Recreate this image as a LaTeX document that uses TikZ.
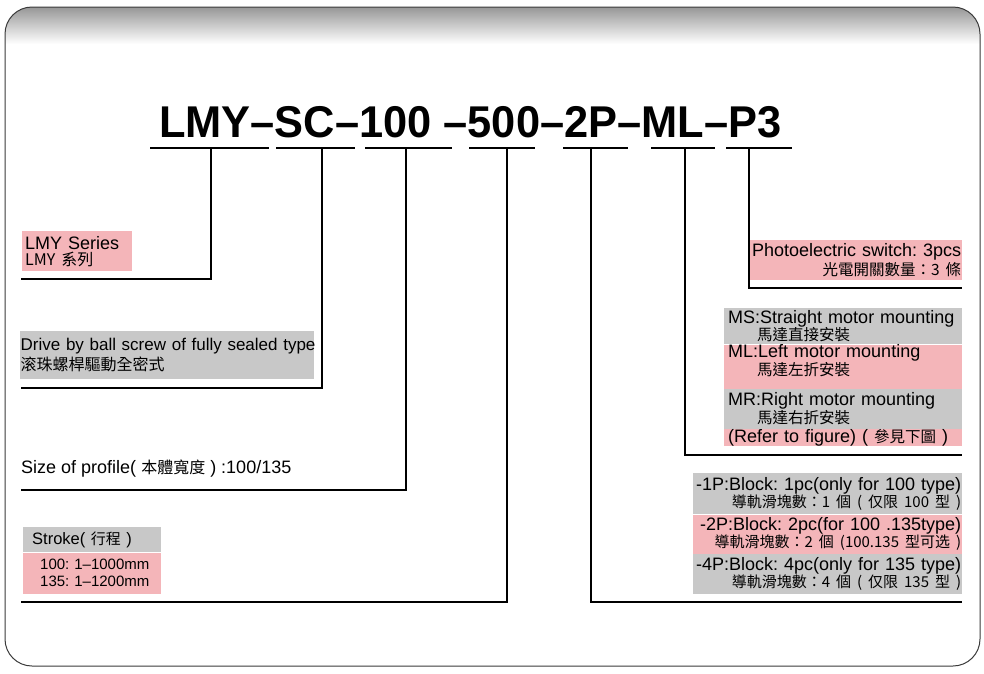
\documentclass[tikz,border=0pt]{standalone}
\usepackage{fontspec}
\setmainfont{Liberation Sans}
\newfontfamily\cjk{Noto Sans CJK TC}
\usepackage{tikz}
\usetikzlibrary{positioning}
\frenchspacing
\definecolor{LabelPink}{HTML}{F4B5B9}
\definecolor{LabelGray}{HTML}{C8C8C8}
\definecolor{FrameLine}{HTML}{3A3A3A}
\definecolor{BandGray}{HTML}{979797}
\newcommand{\cjkline}[2][15]{\mbox{\cjk\fontsize{#1}{#1}\selectfont #2}}
\tikzset{
  % Box styles
  labelbox/.style={rectangle, anchor=north west, inner ysep=0pt, font=\fontsize{18}{16}\selectfont},
  pinkbox/.style={labelbox, fill=LabelPink},
  graybox/.style={labelbox, fill=LabelGray},
  % Line styles
  underline/.style={line width=1.3pt, black},
  leader/.style={line width=1.2pt, black},
  frame/.style={draw=FrameLine, line width=1pt, rounded corners=27pt}
}

\begin{document}
\begin{tikzpicture}[x=1pt, y=-1pt]
  \useasboundingbox (0,0) rectangle (984,673);
  % Frame with shaded top band
  \begin{scope}
    \clip[rounded corners=27pt] (5,7) rectangle (980,666);
    \shade[top color=BandGray, bottom color=white] (5,7) rectangle (980,44);
  \end{scope}
  \draw[frame] (5,7) rectangle (980,666);

  % Model code
  \node[font=\bfseries\fontsize{44.5}{44.5}\selectfont, anchor=base west, inner sep=0pt] (code) at (159,137) {\scalebox{0.975}[1]{LMY–SC–100 –500–2P–ML–P3}};
  \foreach \a/\b in {150/269, 276/355, 365/452, 469/535, 563/628, 651/715, 726/792}
    \draw[underline] (\a,148) -- (\b,148);

  % Left labels
  \node[pinkbox, text width=104pt, inner xsep=3pt, minimum height=40pt, align=left] (series) at (22,231) {\mbox{LMY Series}\\\cjkline[16]{LMY 系列}};
  \node[graybox, text width=293pt, inner xsep=0.5pt, minimum height=48pt, align=left, font=\fontsize{17}{20}\selectfont] (drive) at (20,331) {\mbox{Drive by ball screw of fully sealed type}\\\cjkline[16]{滚珠螺桿驅動全密式}};
  \node[labelbox, anchor=base west, inner sep=0pt] (profile) at (21,473) {Size of profile( \cjkline[16]{本體寬度} ) :100/135};
  \node[graybox, text width=120pt, inner xsep=9pt, minimum height=25pt, align=left, font=\fontsize{16.5}{16}\selectfont] (strokehead) at (23,527) {\mbox{Stroke( \cjkline[15]{行程} )}};
  \node[pinkbox, text width=104pt, inner xsep=17pt, minimum height=41pt, align=left, font=\fontsize{15}{17}\selectfont] (strokerange) at (strokehead.south west) {\mbox{100: 1–1000mm}\\\mbox{135: 1–1200mm}};

  % Right labels
  \node[pinkbox, text width=212pt, inner xsep=1pt, minimum height=40pt, align=right, font=\fontsize{18}{19}\selectfont] (switch) at (748,240) {\mbox{Photoelectric switch: 3pcs}\\\cjkline[15.5]{光電開關數量：3 條}};
  \node[graybox, text width=230pt, inner xsep=4pt, minimum height=36pt, align=left] (ms) at (724,308) {\mbox{MS:Straight motor mounting}\\\hspace*{29pt}\cjkline[15.5]{馬達直接安裝}};
  \node[pinkbox, text width=230pt, inner xsep=4pt, minimum height=43pt, align=left] (ml) at (ms.south west) {\mbox{ML:Left motor mounting}\\\hspace*{29pt}\cjkline[15.5]{馬達左折安裝}\rule[-13pt]{0pt}{13pt}};
  \node[graybox, text width=230pt, inner xsep=4pt, minimum height=40pt, align=left] (mr) at (ml.south west) {\mbox{MR:Right motor mounting}\\\hspace*{29pt}\cjkline[15.5]{馬達右折安裝}};
  \node[pinkbox, text width=230pt, inner xsep=4pt, minimum height=16pt, align=left] (refer) at (mr.south west) {\mbox{(Refer to figure) ( \cjkline[15.5]{參見下圖} )}};
  \node[graybox, text width=267pt, inner xsep=1pt, minimum height=41pt, align=right, font=\fontsize{18}{15}\selectfont] (block1) at (693,473) {\mbox{-1P:Block: 1pc(only for 100 type)}\\\cjkline[15]{導軌滑塊數：1 個 ( 仅限 100 型 )}};
  \node[pinkbox, text width=267pt, inner xsep=1pt, minimum height=39pt, align=right, font=\fontsize{18}{15}\selectfont] (block2) at (block1.south west) {\mbox{-2P:Block: 2pc(for 100 .135type)}\\\cjkline[15]{導軌滑塊數：2 個 (100.135 型可选 )}};
  \node[graybox, text width=267pt, inner xsep=1pt, minimum height=40pt, align=right, font=\fontsize{18}{15}\selectfont] (block4) at (block2.south west) {\mbox{-4P:Block: 4pc(only for 135 type)}\\\cjkline[15]{導軌滑塊數：4 個 ( 仅限 135 型 )}};

  % Leader lines
  \coordinate (seriesTop) at (211,148);  \coordinate (seriesEnd) at (21,279);
  \coordinate (driveTop) at (322,148);   \coordinate (driveEnd) at (21,388);
  \coordinate (profileTop) at (406,148); \coordinate (profileEnd) at (21,490);
  \coordinate (strokeTop) at (507,148);  \coordinate (strokeEnd) at (21,602);
  \coordinate (blockTop) at (591,148);   \coordinate (blockEnd) at (962,602);
  \coordinate (motorTop) at (685,148);   \coordinate (motorEnd) at (962,455);
  \coordinate (switchTop) at (749,148);  \coordinate (switchEnd) at (962,288);
  \draw[leader] (seriesTop) |- (seriesEnd);
  \draw[leader] (driveTop) |- (driveEnd);
  \draw[leader] (profileTop) |- (profileEnd);
  \draw[leader] (strokeTop) |- (strokeEnd);
  \draw[leader] (blockTop) |- (blockEnd);
  \draw[leader] (motorTop) |- (motorEnd);
  \draw[leader] (switchTop) |- (switchEnd);
\end{tikzpicture}
\end{document}
